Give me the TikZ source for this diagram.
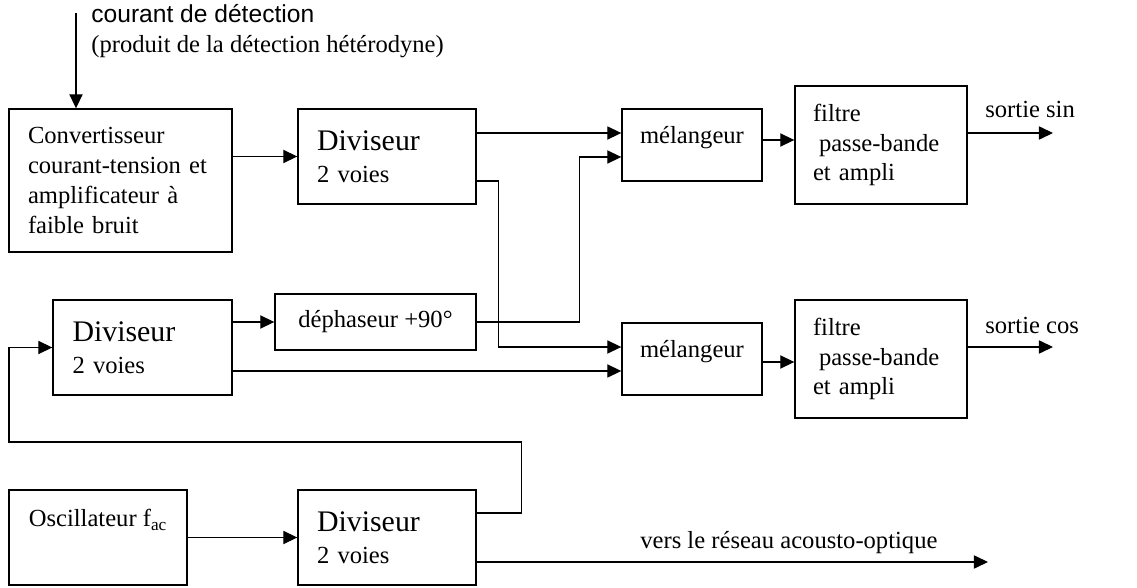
\documentclass[tikz,border=0pt]{standalone}
\usepackage{fontspec}
\setmainfont{Liberation Serif}
\newfontfamily\arialfont{Liberation Sans}
\usetikzlibrary{arrows.meta,calc}

\newcommand{\txt}{\fontsize{14}{17}\selectfont}
\newcommand{\grand}{\fontsize{17}{18}\selectfont}
\newcommand{\diviseur}{{\grand Diviseur}\\[1pt]2 voies}

\begin{document}
\begin{tikzpicture}[x=0.02cm,y=-0.02cm,
    bloc/.style={draw,line width=0.8pt,inner sep=0pt,font=\txt},
    divbloc/.style={bloc,minimum width=3.56cm,minimum height=1.9cm,text width=2.8cm,align=left},
    melbloc/.style={bloc,minimum width=2.8cm,minimum height=1.44cm,align=center,text depth=0.4cm},
    filtbloc/.style={bloc,minimum width=3.44cm,minimum height=2.36cm,text width=2.72cm,align=left},
    etiquette/.style={font=\txt,anchor=base west,inner sep=0pt},
    fleche/.style={line width=0.7pt,-{Triangle[length=8pt,width=7.5pt]}},
    ligne/.style={line width=0.7pt}]
    \useasboundingbox (0,0) rectangle (1137,588);
    % blocs
    \node[bloc,minimum width=4.46cm,minimum height=2.86cm,text width=3.7cm,align=left] (conv) at (120.5,180.5) {Convertisseur\\courant-tension et\\amplificateur à\\faible bruit};
    \node[divbloc] (div1) at (387,156.5) {\diviseur};
    \node[melbloc] (melA) at (692,145) {mélangeur};
    \node[filtbloc] (filtA) at (881,145) {filtre\\\hspace*{0.12cm}passe-bande\\et ampli};
    \node[divbloc,minimum width=3.58cm] (div2) at (142.5,347.5) {\diviseur};
    \node[bloc,minimum width=4.02cm,minimum height=1.12cm] (phase) at (375.5,322) {déphaseur +90°};
    \node[melbloc] (melB) at (692,359) {mélangeur};
    \node[filtbloc] (filtB) at (881,359) {filtre\\\hspace*{0.12cm}passe-bande\\et ampli};
    \node[bloc,minimum width=3.56cm,minimum height=1.9cm,align=left] (osc) at (98,537.5) {Oscillateur f\textsubscript{ac}\\\strut};
    \node[divbloc] (div3) at (387,537.5) {\diviseur};
    % entree et sorties
    \coordinate (entree) at (76,13);
    \coordinate (sinout) at (1053,133);
    \coordinate (cosout) at (1053,347);
    \coordinate (reseau) at (988,562);
    \coordinate (retour) at (9,442);
    \node[etiquette,font=\arialfont\txt] (courant) at (91,23) {courant de détection};
    \node[etiquette] (produit) at (91,53) {(produit de la détection hétérodyne)};
    \node[etiquette] (sin) at (985,118) {sortie sin};
    \node[etiquette] (cos) at (985,333) {sortie cos};
    \node[etiquette] (vers) at (640,548) {vers le réseau acousto-optique};
    % liaisons
    \draw[fleche] (entree) -- (entree |- conv.north);
    \draw[fleche] (div1.west -| conv.east) -- (div1.west);
    \draw[fleche] ([yshift=0.47cm]div1.east) -- ([yshift=0.47cm]div1.east -| melA.west);
    \draw[fleche] ([yshift=-0.49cm]div1.east) -- ++(0.44cm,0) |- ([yshift=0.24cm]melB.west);
    \draw[fleche] (phase.east) -- ++(2.06cm,0) |- ([yshift=-0.24cm]melA.west);
    \draw[fleche] (phase.west -| div2.east) -- (phase.west);
    \draw[fleche] ([yshift=-0.24cm]melB.west -| div2.east) -- ([yshift=-0.24cm]melB.west);
    \draw[fleche] ([yshift=0.1cm]melA.east) -- ([yshift=0.1cm]melA.east -| filtA.west);
    \draw[fleche] ([yshift=-0.06cm]melB.east) -- ([yshift=-0.06cm]melB.east -| filtB.west);
    \draw[fleche] (sinout -| filtA.east) -- (sinout);
    \draw[fleche] (cosout -| filtB.east) -- (cosout);
    \draw[fleche] (osc.east |- div3.west) -- (div3.west);
    \draw[fleche] ([yshift=0.49cm]div3.east) -- ++(0.9cm,0) |- (retour) |- (div2.west);
    \draw[fleche] (reseau -| div3.east) -- (reseau);
\end{tikzpicture}
\end{document}
